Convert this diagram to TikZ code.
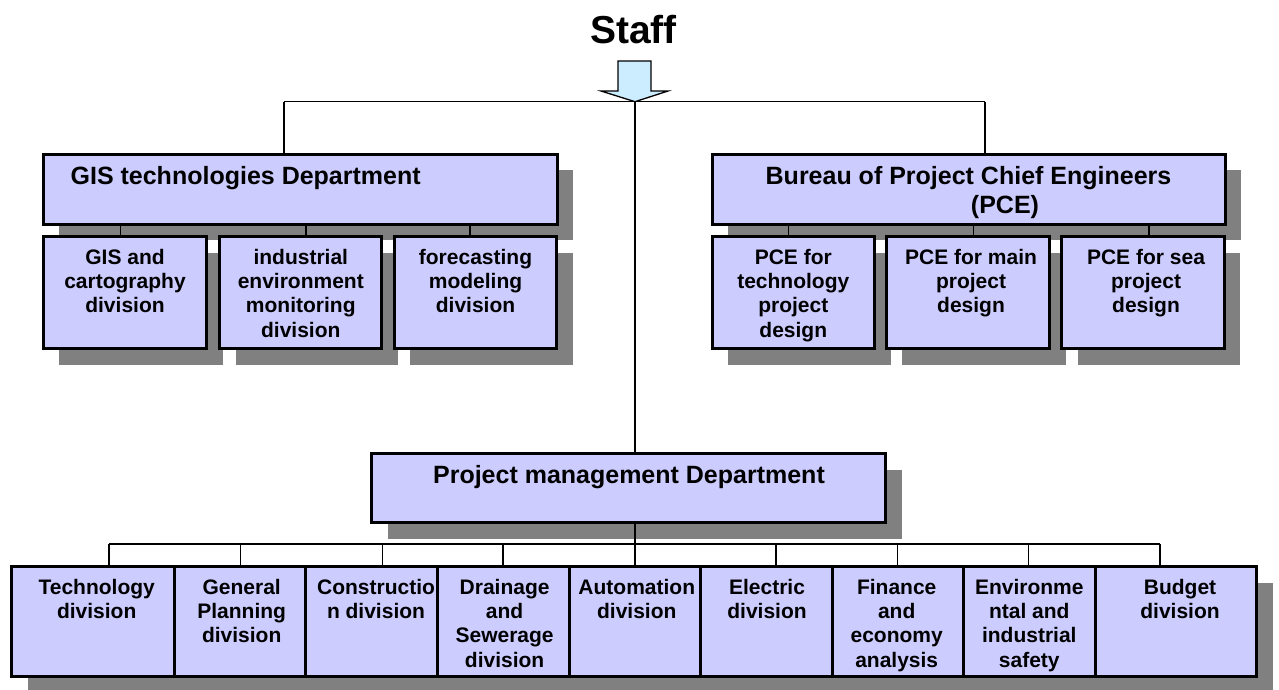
\documentclass[tikz,border=0pt]{standalone}
\usepackage{fontspec}
\setmainfont{Liberation Sans}
\usetikzlibrary{positioning, calc, shadows}
\definecolor{BoxFill}{RGB}{204,204,255}
\definecolor{ShadowGray}{RGB}{128,128,128}
\definecolor{ArrowFill}{RGB}{204,236,255}

\begin{document}
\begin{tikzpicture}[
            x=1pt, y=-1pt,
            font=\bfseries,
            line width=1.2pt,
            box/.style={draw, line width=3pt, fill=BoxFill, anchor=north west,
                inner sep=0pt, outer sep=0pt,
                drop shadow={shadow xshift=16pt, shadow yshift=-16pt, fill=ShadowGray, opacity=1}},
            ttl/.style={font=\fontsize{25}{28.3}\selectfont\bfseries, align=center, inner sep=0pt, anchor=north},
            sub/.style={font=\fontsize{21}{24.3}\selectfont\bfseries, align=center, inner sep=0pt, anchor=north},
            conn/.style={line width=1.2pt},
        ]
        \useasboundingbox (0,0) rectangle (1279,689);

        % Heading and arrow
        \node[font=\fontsize{39}{45}\selectfont\bfseries, inner sep=0pt, anchor=north] (staff) at (633.5,15) {Staff};
        \draw[fill=ArrowFill, line width=1.3pt] (618,61) -- (651,61) -- (651,91) -- (668,91) -- (635,101.7) -- (601,91) -- (618,91) -- cycle;

        % Departments
        \node[box, minimum width=514pt, minimum height=70pt] (gis) at (43,154) {};
        \node[box, minimum width=513pt, minimum height=70pt] (pce) at (712,154) {};

        % Department divisions
        \foreach \pa/\nm/\xa/\w/\cx/\tx/\txt in {
            gis/gisA/43.2/163.6/120.7/125/{GIS and\\cartography\\division},
            gis/gisB/219.8/162/306/300.8/{industrial\\environment\\monitoring\\division},
            gis/gisC/394.2/162.6/470/475.5/{forecasting\\modeling\\division},
            pce/pceA/712.2/162.3/788.4/793.3/{PCE for\\technology\\project\\design},
            pce/pceB/886.1/163.8/973.6/971/{PCE for main\\project\\design},
            pce/pceC/1061.5/162.7/1149/1146/{PCE for sea\\project\\design}} {
            \node[box, minimum width=\w pt, minimum height=112pt] (\nm) at (\xa,236.5) {};
            \node[sub] (\nm-t) at (\tx,248.5) {\txt};
        }

        \node[ttl, anchor=north west] (gis-t) at (70,166) {GIS technologies Department};
        \node[ttl] (pce-t) at (968.5,166) {Bureau of Project Chief Engineers\\\hspace*{73pt}(PCE)};

        % Project management
        \node[box, minimum width=514pt, minimum height=69pt] (pm) at (371.5,453.5) {};
        \node[ttl] (pm-t) at (629,464.5) {Project management Department};

        % Bottom row of divisions
        \foreach \nm/\xa/\xb/\cx/\tx/\txt in {
            tech/11.5/174/109/96.7/{Technology\\division},
            plan/174/305.7/240.3/241.7/{General\\Planning\\division},
            constr/305.7/437/382.7/376/{Constructio\\n division},
            drain/437/569/503/504.6/{Drainage\\and\\Sewerage\\division},
            auto/569/700/635/636.8/{Automation\\division},
            elec/700/832/776/767/{Electric\\division},
            fin/832/963.3/897.7/896.7/{Finance\\and\\economy\\analysis},
            env/963.3/1095/1028.3/1029.3/{Environme\\ntal and\\industrial\\safety},
            budget/1095/1256.8/1160/1180/{Budget\\division}} {
            \node[box, minimum width={(\xb-\xa)*1pt}, minimum height=110pt] (\nm) at (\xa,566.5) {};
            \node[sub] (\nm-t) at (\tx,578.5) {\txt};
            \coordinate (\nm-in) at (\cx,544);
            \draw[conn] (\nm-in) -- (\nm-in |- \nm.north);
        }

        % Connectors
        \coordinate (busL) at (284,101.7);
        \coordinate (busC) at (635,101.7);
        \coordinate (busR) at (985,101.7);
        \draw[conn] (busL) -- (busR);
        \draw[conn] (busL) -- (busL |- gis.north);
        \draw[conn] (busR) -- (busR |- pce.north);
        \draw[conn] (busC) -- (busC |- pm.north);
        \draw[conn] (busC |- pm.south) -- (auto-in);
        \draw[conn] (tech-in) -- (budget-in);
        \foreach \pa/\nm/\cx in {gis/gisA/120.7, gis/gisB/306, gis/gisC/470,
            pce/pceA/788.4, pce/pceB/973.6, pce/pceC/1149} {
            \draw[conn] (\cx,0 |- \pa.south) -- (\cx,0 |- \nm.north);
        }
        \end{tikzpicture}
\end{document}
